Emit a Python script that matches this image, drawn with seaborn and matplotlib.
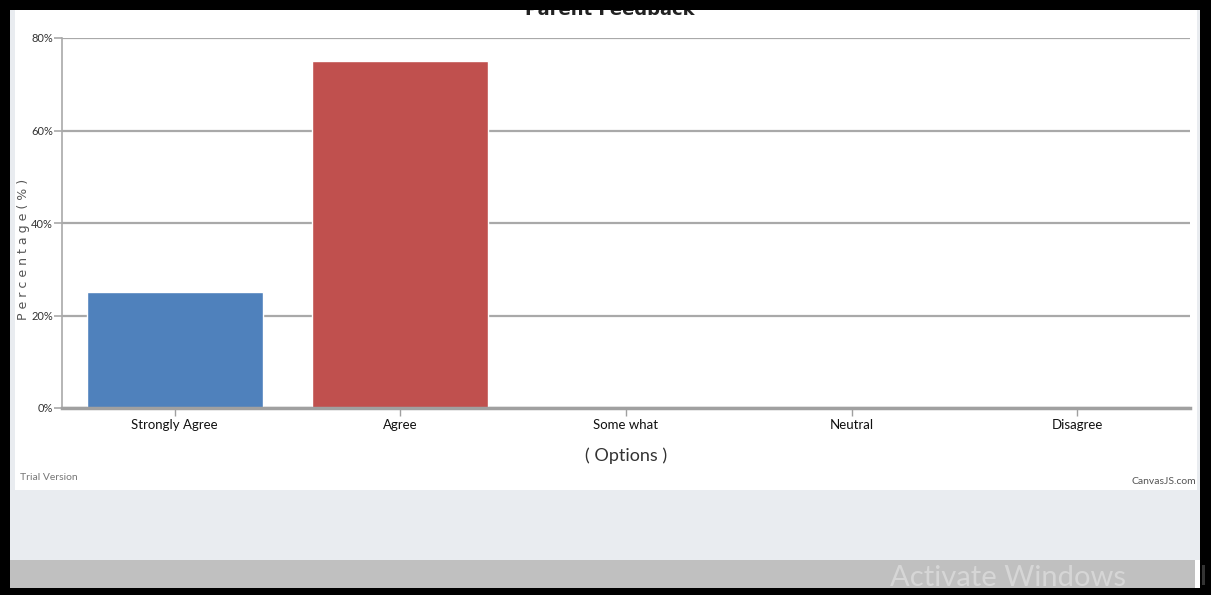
import matplotlib
matplotlib.use("Agg")
import matplotlib.pyplot as plt
from matplotlib.patches import Rectangle
import seaborn as sns

categories = ["Strongly Agree", "Agree", "Some what", "Neutral", "Disagree"]
values = [25, 75, 0, 0, 0]
bar_colors = ["#4f81bc", "#c0504e", "#9bbb58", "#23bfaa", "#8064a1"]
y_ticks = [0, 20, 40, 60, 80]
y_tick_labels = ["0%", "20%", "40%", "60%", "80%"]

sns.set_theme(style="white")
narrow = ["Lato", "DejaVu Sans"]
plt.rcParams["font.family"] = ["DejaVu Sans"]

W, H = 1211, 595
fig = plt.figure(figsize=(W / 100, H / 100), dpi=100)
fig.patch.set_facecolor("white")

def frect(x0, y0, x1, y1, color, z):
    # pixel coords from top-left
    fig.patches.append(Rectangle((x0 / W, 1 - y1 / H), (x1 - x0) / W, (y1 - y0) / H,
                                 transform=fig.transFigure, facecolor=color,
                                 edgecolor="none", zorder=z))

# page background pieces
frect(10, 10, 1200, 588, "#e9ecf0", 0)
frect(15, 10, 1197, 490, "white", 0.5)
frect(10, 560, 1195, 588, "#c0c0c0", 0.6)
# black frame
frect(0, 0, W, 10, "black", 20)
frect(0, 0, 10, H, "black", 20)
frect(1200, 0, W, H, "black", 20)
frect(0, 588, W, H, "black", 20)
frect(1195, 560, 1200, 588, "white", 19)
frect(1202, 565, 1205, 585, "#333333", 21)

ax = fig.add_axes([62 / W, 1 - 408 / H, (1190 - 62) / W, (408 - 38) / H])
ax.set_zorder(5)
ax.patch.set_alpha(0)

sns.barplot(x=categories, y=values, hue=categories, palette=bar_colors,
            width=0.78, legend=False, ax=ax, saturation=1)

ax.set_ylim(0, 80)
ax.set_xlim(-0.5, 4.5)
ax.set_yticks(y_ticks)
ax.set_yticklabels(y_tick_labels, family=narrow, fontsize=8, color="#333333")
ax.set_xticks(range(len(categories)))
ax.set_xticklabels(categories, family=narrow, fontsize=9.5, color="#111111")
ax.yaxis.grid(True, color="#a9a9a9", linewidth=1.6)
ax.set_axisbelow(True)
for s in ["top", "right"]:
    ax.spines[s].set_visible(False)
ax.spines["left"].set_color("#a9a9a9")
ax.spines["left"].set_linewidth(1.2)
ax.spines["bottom"].set_color("#a0a0a0")
ax.spines["bottom"].set_linewidth(2.5)
ax.tick_params(axis="y", length=6, color="#a9a9a9", width=1.2, pad=0.5, left=True)
ax.tick_params(axis="x", length=6, color="#a0a0a0", width=1.0, pad=2, bottom=True)

ax.set_ylabel("P e r c e n t a g e ( % )", family=["DejaVu Sans"], fontsize=9,
              color="#555555")
ax.yaxis.set_label_coords((30 - 62) / 1128, (408 - 249) / 370)
ax.set_xlabel("( Options )", family=narrow, fontsize=13, color="#333333")
ax.xaxis.set_label_coords(0.5, -(447 - 408) / 370)

# title partially hidden behind the top frame
fig.text(610 / W, 1 - 19 / H, "Parent Feedback", ha="center", va="bottom",
         fontsize=13, fontweight="bold", color="#222222", zorder=3)
fig.text(20 / W, 1 - 477 / H, "Trial Version", family=narrow, fontsize=7.5,
         color="#777777", va="center", zorder=3)
fig.text(1196 / W, 1 - 481 / H, "CanvasJS.com", family=narrow, fontsize=7.5,
         color="#555555", va="center", ha="right", zorder=3)
fig.text(1008 / W, 1 - 578 / H, "Activate Windows", family=narrow, fontsize=21,
         color="#d6d6d6", va="center", ha="center", zorder=3)

fig.savefig("out.png", dpi=100)
